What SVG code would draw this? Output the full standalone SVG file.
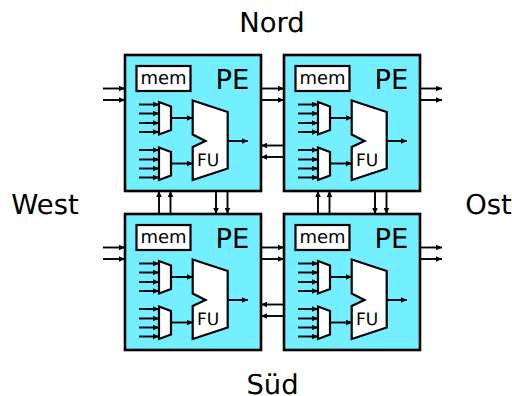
<svg xmlns="http://www.w3.org/2000/svg" xmlns:xlink="http://www.w3.org/1999/xlink" width="512" height="396" viewBox="0 0 512 396">
<style>
text{font-family:"DejaVu Sans",sans-serif;fill:#000;text-rendering:geometricPrecision}
.lbl{font-size:27.4px;text-anchor:middle}
.pe{font-size:27.4px}
.mem{font-size:18px;text-anchor:middle}
.fu{font-size:17px}
.box{fill:#73efff;stroke:#000;stroke-width:2.6}
.w{fill:#fff;stroke:#000;stroke-width:2.2}
.a{fill:none;stroke:#000;stroke-width:1.9;marker-end:url(#ah)}
</style>
<defs>
<marker id="ah" markerUnits="userSpaceOnUse" markerWidth="7" markerHeight="6" refX="6" refY="3" orient="auto"><path d="M0 0.2L6 3L0 5.8z" fill="#000"/></marker>
<g id="inner">
<rect class="box" x="125" y="55" width="136" height="136"/>
<rect class="w" x="136.500" y="66" width="54" height="25"/>
<text class="mem" x="163.500" y="84">mem</text>
<text class="pe" x="215.500" y="89">PE</text>
<path class="w" d="M159 102L171 106.500V130L159 134.500z"/>
<path class="w" d="M159 147.500L171 152V175.500L159 180z"/>
<path class="w" d="M192.700 100.500L227.700 112V168.500L192.700 180V147L205.500 141L192.700 134.500z"/>
<text class="fu" x="197" y="166">FU</text>
<path class="a" d="M139 104.500H159"/><path class="a" d="M139 113.500H159"/><path class="a" d="M139 123H159"/><path class="a" d="M139 132H159"/>
<path class="a" d="M139 150H159"/><path class="a" d="M139 159.500H159"/><path class="a" d="M139 168.500H159"/><path class="a" d="M139 177.500H159"/>
<path class="a" d="M171 118H193"/><path class="a" d="M171 163.500H193"/><path class="a" d="M228 141H248"/>
</g>
</defs>
<g id="pe-nw"><use xlink:href="#inner"/></g>
<g id="pe-ne"><use xlink:href="#inner" x="159"/></g>
<g id="pe-sw"><use xlink:href="#inner" y="159"/></g>
<g id="pe-se"><use xlink:href="#inner" x="159" y="159"/></g>
<g id="connectors">
<path class="a" d="M103 88.500H125"/><path class="a" d="M103 100H125"/>
<path class="a" d="M103 247.500H125"/><path class="a" d="M103 259H125"/>
<path class="a" d="M261 88.500H284"/><path class="a" d="M261 100H284"/>
<path class="a" d="M261 247.500H284"/><path class="a" d="M261 259H284"/>
<path class="a" d="M420 88.500H442"/><path class="a" d="M420 100H442"/>
<path class="a" d="M420 247.500H442"/><path class="a" d="M420 259H442"/>
<path class="a" d="M284 145.500H261"/><path class="a" d="M284 157H261"/>
<path class="a" d="M284 304.500H261"/><path class="a" d="M284 316H261"/>
<path class="a" d="M159 214V191"/><path class="a" d="M170.500 214V191"/>
<path class="a" d="M318 214V191"/><path class="a" d="M329.500 214V191"/>
<path class="a" d="M216 191V214"/><path class="a" d="M227.500 191V214"/>
<path class="a" d="M375 191V214"/><path class="a" d="M386.500 191V214"/>
</g>
<text class="lbl" x="272" y="32">Nord</text>
<text class="lbl" x="45" y="214">West</text>
<text class="lbl" x="488.500" y="214">Ost</text>
<text class="lbl" x="272.500" y="394">Süd</text>
</svg>
